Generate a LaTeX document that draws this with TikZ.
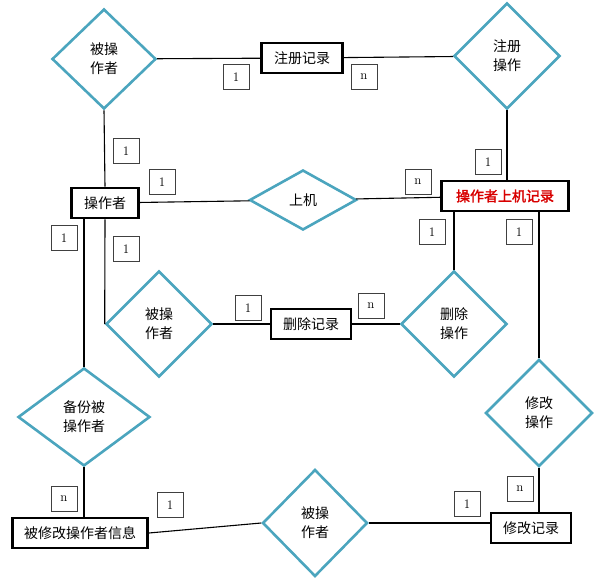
\documentclass[tikz,border=0pt]{standalone}
\usepackage{fontspec}
\newfontfamily\cjk[AutoFakeBold=2]{Noto Sans CJK SC}
\usetikzlibrary{shapes.geometric}
\definecolor{relteal}{HTML}{4BA5BE}
\definecolor{recred}{HTML}{D80000}

\begin{document}
\begin{tikzpicture} [x=1pt, y=-1pt,
                rel/.style={diamond, draw=relteal, line width=2.6pt, align=center, inner sep=0pt, font=\cjk\fontsize{14}{19}\selectfont},
                ent/.style={rectangle, draw=black, line width=2.8pt, minimum height=30pt, inner sep=0pt, font=\cjk\fontsize{14}{17}\selectfont},
                card/.style={rectangle, draw=black!75, line width=0.8pt, minimum width=26pt, minimum height=25pt, inner sep=0pt, font=\fontsize{13}{15}\selectfont},
                edge_style/.style={draw=black, line width=1.1pt}]
                \useasboundingbox (0,0) rectangle (596,585);
                % relationships
                \node [rel, minimum width=104pt, minimum height=100pt] (bcz1) at (104,59) {被操\\作者};
                \node [rel, minimum width=106pt, minimum height=106pt] (zccz) at (507,56) {注册\\操作};
                \node [rel, minimum width=107pt, minimum height=60pt] (sj) at (303,200) {上机};
                \node [rel, minimum width=106pt, minimum height=106pt] (bcz2) at (159,324) {被操\\作者};
                \node [rel, minimum width=106pt, minimum height=106pt] (sccz) at (454,324) {删除\\操作};
                \node [rel, minimum width=132pt, minimum height=98pt] (bfbcz) at (84,417) {备份被\\操作者};
                \node [rel, minimum width=107pt, minimum height=107pt] (xgcz) at (539,413) {修改\\操作};
                \node [rel, minimum width=105pt, minimum height=107pt] (bcz3) at (315,523) {被操\\作者};
                % entities
                \node [ent, minimum width=81pt] (zcjl) at (302,58) {注册记录};
                \node [ent, minimum width=67pt] (czz) at (105,203) {操作者};
                \node [ent, minimum width=127pt, text=recred, font=\cjk\bfseries\fontsize{14}{17}\selectfont] (czjl) at (505,196) {操作者上机记录};
                \node [ent, minimum width=80pt] (scjl) at (311,324) {删除记录};
                \node [ent, minimum width=135pt] (bxgxx) at (80,533) {被修改操作者信息};
                \node [ent, minimum width=80pt] (xgjl) at (531,528) {修改记录};
                % cardinalities
                \node [card] (c1) at (236,77) {1};
                \node [card] (c2) at (364,77) {n};
                \node [card] (c3) at (126,151) {1};
                \node [card] (c4) at (162,182) {1};
                \node [card] (c5) at (488,162) {1};
                \node [card] (c6) at (418,182) {n};
                \node [card] (c7) at (432,232) {1};
                \node [card] (c8) at (519,232) {1};
                \node [card] (c9) at (64,238) {1};
                \node [card] (c10) at (126,249) {1};
                \node [card] (c11) at (248,308) {1};
                \node [card] (c12) at (371,306) {n};
                \node [card] (c13) at (64,499) {n};
                \node [card] (c14) at (170,505) {1};
                \node [card] (c15) at (467,504) {1};
                \node [card] (c16) at (520,489) {n};
                % connectors
                \draw [edge_style] (bcz1) edge (zcjl) {};
                \draw [edge_style] (zcjl) edge (zccz) {};
                \draw [edge_style] (bcz1.south) edge (czz.north) {};
                \draw [edge_style] (zccz.south) edge (zccz.south |- czjl.north) {};
                \draw [edge_style] (czz) edge (sj) {};
                \draw [edge_style] (sj) edge (czjl) {};
                \draw [edge_style] (czz.south) edge (bcz2.west) {};
                \draw [edge_style] (bfbcz.north |- czz.south) edge (bfbcz.north) {};
                \draw [edge_style] (bcz2) edge (scjl) {};
                \draw [edge_style] (scjl) edge (sccz) {};
                \draw [edge_style] (sccz.north |- czjl.south) edge (sccz.north) {};
                \draw [edge_style] (xgcz.north |- czjl.south) edge (xgcz.north) {};
                \draw [edge_style] (bfbcz.south) edge (bfbcz.south |- bxgxx.north) {};
                \draw [edge_style] (bxgxx.east) edge (bcz3.west) {};
                \draw [edge_style] (bcz3.east) edge (xgjl.west |- bcz3.east) {};
                \draw [edge_style] (xgcz.south) edge (xgcz.south |- xgjl.north) {};
            \end{tikzpicture}
\end{document}
